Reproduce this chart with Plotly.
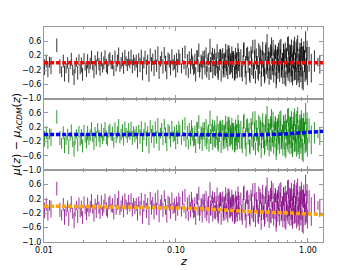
import plotly.graph_objects as go
from plotly.subplots import make_subplots

# ---- data ----
z = [
    0.0101, 0.0104, 0.0107, 0.0110, 0.0113, 0.0125,
    0.0132, 0.0136, 0.0140, 0.0143, 0.0147, 0.0151, 0.0154, 0.0158, 0.0161, 0.0165,
    0.0169, 0.0172, 0.0176, 0.0180, 0.0184, 0.0188, 0.0192, 0.0196, 0.0201, 0.0205,
    0.0210, 0.0214, 0.0219, 0.0224, 0.0229, 0.0234, 0.0239, 0.0244, 0.0249, 0.0255,
    0.0261, 0.0266, 0.0272, 0.0278, 0.0284, 0.0290, 0.0297, 0.0303, 0.0310, 0.0316,
    0.0323, 0.0330, 0.0338, 0.0345, 0.0352, 0.0360, 0.0368, 0.0376, 0.0384, 0.0393,
    0.0401, 0.0410, 0.0419, 0.0428, 0.0438, 0.0447, 0.0457, 0.0467, 0.0477, 0.0488,
    0.0500, 0.0511, 0.0522, 0.0534, 0.0546, 0.0558, 0.0571, 0.0583, 0.0597, 0.0610,
    0.0624, 0.0638, 0.0652, 0.0667, 0.0682, 0.0697, 0.0713, 0.0729, 0.0745, 0.0762,
    0.0779, 0.0797, 0.0815, 0.0833, 0.0852, 0.0871, 0.0890, 0.0910, 0.0931, 0.0952,
    0.0973, 0.0995, 0.1010, 0.1030, 0.1050,
    0.107, 0.110, 0.112, 0.115, 0.117, 0.119, 0.122, 0.124, 0.126, 0.129,
    0.131, 0.134, 0.136, 0.139, 0.141, 0.144, 0.147, 0.149, 0.152, 0.155,
    0.158, 0.160, 0.163, 0.166, 0.169, 0.172, 0.175, 0.178, 0.181, 0.184,
    0.187, 0.190, 0.193, 0.196, 0.199, 0.202, 0.205, 0.208, 0.211, 0.214,
    0.217, 0.220, 0.223, 0.226, 0.229, 0.232, 0.235, 0.238, 0.241, 0.244,
    0.247, 0.250, 0.253, 0.256, 0.259, 0.262, 0.265, 0.268, 0.271, 0.274,
    0.277, 0.280, 0.283, 0.286, 0.289, 0.292, 0.295, 0.298, 0.301, 0.304,
    0.310, 0.318, 0.322, 0.328, 0.334, 0.340, 0.343, 0.352, 0.358, 0.364,
    0.370, 0.376, 0.382, 0.388, 0.394, 0.400, 0.406, 0.412, 0.418, 0.424,
    0.430, 0.436, 0.442, 0.448, 0.454, 0.460, 0.466, 0.472, 0.478, 0.484,
    0.490, 0.496, 0.502, 0.508, 0.514, 0.520, 0.526, 0.532, 0.538, 0.544,
    0.550, 0.556, 0.562, 0.568, 0.574, 0.580, 0.586, 0.592, 0.598, 0.604,
    0.610, 0.617, 0.624, 0.631, 0.638, 0.645, 0.652, 0.659, 0.666, 0.673,
    0.680, 0.687, 0.694, 0.701, 0.708, 0.715, 0.722, 0.729, 0.736, 0.743,
    0.750, 0.757, 0.764, 0.771, 0.778, 0.785, 0.792, 0.799, 0.806, 0.813,
    0.820, 0.828, 0.836, 0.844, 0.852, 0.860, 0.868, 0.876, 0.884, 0.892,
    0.900, 0.910, 0.920, 0.930, 0.940, 0.950, 0.960, 0.970, 0.980, 0.990,
    1.02, 1.06, 1.12, 1.19, 1.23,
    0.205, 0.215, 0.228, 0.236, 0.248, 0.257, 0.266, 0.279, 0.288, 0.297,
    0.313, 0.325, 0.337, 0.349, 0.361, 0.373, 0.385, 0.397, 0.409, 0.421,
    0.433, 0.445, 0.457, 0.469, 0.481, 0.493, 0.505, 0.517, 0.529, 0.541,
    0.553, 0.565, 0.577, 0.589, 0.601, 0.613, 0.627, 0.641, 0.655, 0.669,
    0.683, 0.697, 0.711, 0.725, 0.739, 0.753, 0.767, 0.781, 0.795, 0.809,
    0.824, 0.840, 0.856, 0.872, 0.888, 0.905, 0.925, 0.945, 0.965, 0.985,
    0.132, 0.138, 0.145, 0.151, 0.157, 0.164, 0.171, 0.177, 0.183, 0.189,
    0.195, 0.201, 0.209, 0.219, 0.231, 0.243, 0.252, 0.261, 0.270, 0.284,
]

resid = [
    -0.12, 0.05, -0.20, 0.02, -0.08, 0.49,
    -0.10, -0.25, 0.05, -0.30, -0.15, 0.00, -0.35, -0.05, 0.10, -0.20,
    -0.40, -0.12, 0.02, -0.28, 0.08, -0.18, -0.06, -0.32, 0.12, -0.10,
    -0.22, 0.04, -0.15, -0.02, 0.15, -0.08, -0.25, 0.06, -0.12, 0.18,
    -0.04, -0.20, 0.10, -0.14, 0.00, 0.20, -0.08, -0.18, 0.08, 0.14,
    -0.05, 0.02, -0.22, 0.16, -0.10, 0.06, 0.22, -0.12, 0.00, 0.10,
    -0.16, 0.18, 0.04, -0.06, 0.12, -0.02, 0.20, -0.10, 0.08, -0.04,
    0.05, -0.18, 0.12, -0.06, 0.20, -0.25, 0.00, 0.15, -0.12, 0.08,
    -0.30, 0.22, -0.04, 0.10, -0.15, 0.18, -0.08, 0.25, -0.20, 0.04,
    0.14, -0.10, 0.28, -0.02, -0.22, 0.12, 0.06, -0.14, 0.20, -0.06,
    0.02, -0.18, 0.10, -0.08, 0.16,
    0.10, -0.15, 0.22, -0.05, 0.30, -0.20, 0.05, -0.28, 0.15, -0.10,
    0.25, 0.00, -0.18, 0.12, -0.32, 0.20, -0.08, 0.35, -0.12, 0.06,
    -0.25, 0.18, 0.02, -0.15, 0.28, -0.05, 0.10, -0.30, 0.45, -0.10,
    0.15, -0.22, 0.08, 0.24, -0.18, 0.00, 0.32, -0.26, 0.12, -0.06,
    0.20, -0.35, 0.05, 0.26, -0.14, 0.10, -0.20, 0.34, -0.08, 0.16,
    -0.28, 0.04, 0.22, -0.16, 0.12, -0.04, 0.30, -0.24, 0.08, 0.18,
    -0.30, 0.02, 0.26, -0.12, 0.14, -0.20, 0.36, -0.06, 0.10, -0.22,
    0.20, -0.30, 0.05, 0.38, -0.15, -0.42, 0.25, -0.05, 0.12, -0.35,
    0.30, -0.10, 0.45, -0.25, 0.08, -0.40, 0.18, 0.02, -0.20, 0.35,
    -0.08, 0.22, -0.45, 0.10, 0.40, -0.18, 0.00, -0.32, 0.28, -0.12,
    0.50, -0.22, 0.15, -0.38, 0.05, 0.32, -0.28, 0.20, -0.05, 0.42,
    -0.35, 0.12, -0.15, 0.30, -0.48, 0.08, 0.25, -0.20, 0.38, -0.02,
    -0.30, 0.18, 0.46, -0.12, 0.05, -0.40, 0.28, -0.22, 0.10, 0.35,
    -0.45, 0.15, -0.08, 0.52, -0.25, 0.02, 0.30, -0.35, 0.20, -0.15,
    0.40, -0.05, -0.42, 0.25, 0.10, -0.28, 0.48, -0.18, 0.05, 0.32,
    -0.38, 0.14, 0.55, -0.22, 0.00, -0.45, 0.28, 0.12, -0.30, 0.42,
    -0.10, 0.22, -0.50, 0.35, 0.05, -0.25, 0.58, -0.15, 0.18, -0.35,
    0.10, -0.15, 0.05, 0.02, -0.05,
    -0.12, 0.18, -0.25, 0.08, 0.30, -0.10, 0.15, -0.30, 0.05, 0.22,
    -0.18, 0.35, -0.05, 0.25, -0.32, 0.12, -0.20, 0.40, 0.00, -0.28,
    0.28, -0.15, 0.10, -0.38, 0.32, -0.02, 0.20, -0.25, 0.45, -0.12,
    0.05, 0.30, -0.35, 0.15, -0.08, 0.38, -0.20, 0.02, 0.26, -0.40,
    0.12, -0.18, 0.48, -0.05, 0.22, -0.30, 0.08, 0.35, -0.22, -0.02,
    0.40, -0.28, 0.15, -0.10, 0.30, -0.42, 0.20, 0.05, -0.20, 0.35,
    0.08, -0.12, 0.20, -0.22, 0.02, 0.15, -0.25, 0.10, -0.05, 0.25,
    -0.15, 0.12, -0.28, 0.18, 0.05, -0.18, 0.30, -0.08, 0.14, -0.24,
]

err = [
    0.22, 0.18, 0.20, 0.15, 0.24, 0.19,
    0.20, 0.15, 0.18, 0.22, 0.14, 0.16, 0.20, 0.12, 0.18, 0.15,
    0.22, 0.17, 0.13, 0.19, 0.16, 0.14, 0.21, 0.18, 0.15, 0.12,
    0.17, 0.20, 0.14, 0.16, 0.19, 0.13, 0.18, 0.15, 0.21, 0.14,
    0.17, 0.16, 0.20, 0.13, 0.18, 0.15, 0.19, 0.14, 0.17, 0.16,
    0.12, 0.20, 0.15, 0.18, 0.14, 0.17, 0.21, 0.13, 0.16, 0.19,
    0.15, 0.18, 0.14, 0.17, 0.20, 0.13, 0.16, 0.19, 0.15, 0.18,
    0.18, 0.22, 0.15, 0.20, 0.17, 0.24, 0.16, 0.19, 0.21, 0.15,
    0.23, 0.18, 0.20, 0.16, 0.22, 0.19, 0.17, 0.21, 0.25, 0.15,
    0.18, 0.20, 0.16, 0.22, 0.24, 0.17, 0.19, 0.21, 0.18, 0.16,
    0.20, 0.23, 0.17, 0.19, 0.21,
    0.16, 0.14, 0.20, 0.13, 0.18, 0.15, 0.19, 0.14, 0.17, 0.21,
    0.15, 0.18, 0.16, 0.13, 0.20, 0.15, 0.18, 0.19, 0.14, 0.17,
    0.21, 0.15, 0.16, 0.18, 0.15, 0.20, 0.14, 0.18, 0.22, 0.16,
    0.15, 0.21, 0.17, 0.15, 0.19, 0.14, 0.20, 0.16, 0.18, 0.15,
    0.19, 0.17, 0.22, 0.15, 0.18, 0.14, 0.20, 0.19, 0.16, 0.21,
    0.17, 0.15, 0.19, 0.18, 0.14, 0.22, 0.16, 0.19, 0.20, 0.15,
    0.18, 0.21, 0.16, 0.19, 0.15, 0.22, 0.19, 0.17, 0.20, 0.18,
    0.18, 0.22, 0.16, 0.20, 0.25, 0.19, 0.17, 0.23, 0.20, 0.21,
    0.16, 0.24, 0.19, 0.20, 0.27, 0.18, 0.22, 0.16, 0.25, 0.20,
    0.23, 0.17, 0.21, 0.25, 0.19, 0.20, 0.28, 0.18, 0.22, 0.20,
    0.30, 0.21, 0.17, 0.23, 0.26, 0.19, 0.20, 0.24, 0.18, 0.22,
    0.20, 0.25, 0.21, 0.19, 0.23, 0.27, 0.20, 0.24, 0.18, 0.22,
    0.24, 0.20, 0.21, 0.26, 0.23, 0.19, 0.25, 0.20, 0.28, 0.22,
    0.21, 0.27, 0.24, 0.20, 0.25, 0.30, 0.22, 0.20, 0.26, 0.23,
    0.25, 0.28, 0.21, 0.24, 0.27, 0.22, 0.25, 0.30, 0.23, 0.26,
    0.24, 0.29, 0.22, 0.27, 0.25, 0.23, 0.28, 0.32, 0.24, 0.26,
    0.29, 0.24, 0.27, 0.25, 0.31, 0.28, 0.30, 0.29, 0.26, 0.27,
    0.35, 0.40, 0.30, 0.12, 0.25,
    0.18, 0.20, 0.16, 0.22, 0.19, 0.21, 0.17, 0.20, 0.23, 0.18,
    0.22, 0.19, 0.24, 0.20, 0.18, 0.23, 0.21, 0.25, 0.19, 0.22,
    0.20, 0.24, 0.22, 0.19, 0.25, 0.21, 0.23, 0.20, 0.26, 0.22,
    0.24, 0.21, 0.25, 0.23, 0.20, 0.26, 0.22, 0.24, 0.27, 0.21,
    0.25, 0.23, 0.26, 0.22, 0.28, 0.24, 0.21, 0.27, 0.25, 0.23,
    0.26, 0.28, 0.24, 0.27, 0.25, 0.30, 0.26, 0.28, 0.29, 0.27,
    0.16, 0.18, 0.15, 0.19, 0.17, 0.20, 0.16, 0.18, 0.21, 0.17,
    0.19, 0.16, 0.20, 0.18, 0.22, 0.17, 0.19, 0.21, 0.18, 0.20,
]

z_model = [0.01, 0.02, 0.04, 0.1, 0.2, 0.35, 0.5, 0.7, 0.9, 1.1, 1.3]
model_red = [0.0, 0.0, 0.0, 0.0, 0.0, 0.0, 0.0, 0.0, 0.0, 0.0, 0.0]
model_blue = [0.0, 0.0, 0.0, 0.0, -0.01, -0.01, 0.0, 0.02, 0.05, 0.07, 0.09]
model_orange = [0.0, -0.01, -0.03, -0.05, -0.09, -0.15, -0.17, -0.19, -0.21, -0.22, -0.23]

x_tickvals = [0.01, 0.1, 1.0]
x_ticktext = ["0.01", "0.10", "1.00"]
x_minor = [0.02, 0.03, 0.04, 0.05, 0.06, 0.07, 0.08, 0.09,
           0.2, 0.3, 0.4, 0.5, 0.6, 0.7, 0.8, 0.9]
y_tickvals = [-1.0, -0.6, -0.2, 0.2, 0.6]
y_ticktext = ["\u22121.0", "\u22120.6", "\u22120.2", "0.2", "0.6"]

n = min(len(z), len(resid), len(err))
z, resid, err = z[:n], resid[:n], err[:n]

fig = make_subplots(rows=3, cols=1, shared_xaxes=True, vertical_spacing=0)

panels = [
    ("rgba(0,0,0,0.8)", "#ff0000", model_red),
    ("rgba(0,128,0,0.8)", "#0000ff", model_blue),
    ("rgba(128,0,128,0.8)", "#ffa500", model_orange),
]
GRAY = "#999999"
for i, (dcol, lcol, m) in enumerate(panels, start=1):
    fig.add_trace(go.Scatter(
        x=z, y=resid, mode="markers",
        marker=dict(size=1, color="rgba(0,0,0,0)"),
        error_y=dict(type="data", array=err, visible=True, color=dcol,
                     thickness=1, width=0),
        showlegend=False, hoverinfo="skip"), row=i, col=1)
    fig.add_trace(go.Scatter(
        x=z_model, y=m, mode="lines", line_shape="spline",
        line=dict(color=lcol, width=3.5, dash="4px,2px"),
        showlegend=False, hoverinfo="skip"), row=i, col=1)

    fig.update_xaxes(
        type="log", range=[-2, 0.114], tickvals=x_tickvals, ticktext=x_ticktext,
        showticklabels=(i == 3), ticks="inside", ticklen=4, tickwidth=1,
        tickcolor=GRAY, showline=True, linecolor=GRAY, linewidth=1,
        mirror="ticks", showgrid=False, zeroline=False,
        minor=dict(ticks="inside", ticklen=2, tickvals=x_minor, tickcolor=GRAY,
                   showgrid=False),
        row=i, col=1)
    fig.update_yaxes(
        range=[-1.0, 1.0], tickvals=y_tickvals, ticktext=y_ticktext,
        ticks="inside", ticklen=4, tickwidth=1, tickcolor=GRAY,
        showline=True, linecolor=GRAY, linewidth=1, mirror="ticks",
        showgrid=False, zeroline=False, row=i, col=1)

fig.update_layout(
    width=352, height=262,
    margin=dict(l=36, r=37, t=19, b=28),
    plot_bgcolor="white", paper_bgcolor="white",
    font=dict(family="DejaVu Sans", size=8, color="black"),
    annotations=[
        dict(text="<i>\u03bc</i>(<i>z</i>) \u2212 <i>\u03bc</i><sub><i>\u039bCDM</i></sub>(<i>z</i>)",
             xref="paper", yref="paper", x=-0.098, y=0.5, textangle=-90,
             showarrow=False, xanchor="center", yanchor="middle",
             font=dict(family="DejaVu Sans", size=11, color="black")),
        dict(text="<i>z</i>", xref="paper", yref="paper", x=0.5, y=-0.093,
             showarrow=False, xanchor="center", yanchor="middle",
             font=dict(family="DejaVu Sans", size=11, color="black")),
    ],
)

fig.write_html("out.html")
